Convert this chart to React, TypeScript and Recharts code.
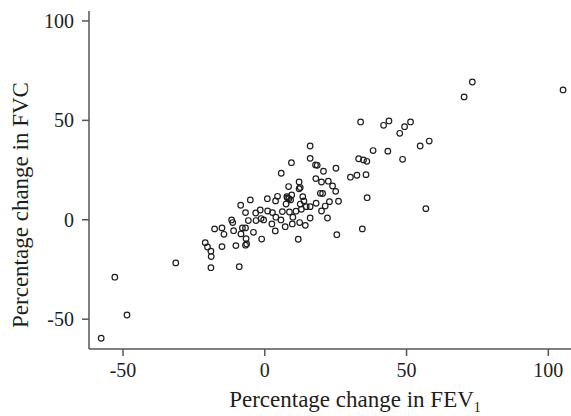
import * as React from 'react'
import { Scatter, ScatterChart, XAxis, YAxis } from 'recharts'

// percentage change in FEV1 (x) and FVC (y), one entry per subject
const fev1Change = [
  -57.7, -48.6, -52.9, -31.4, -19.0, -9.0, -21.0, -20.2, -19.0, -18.9,
  -15.1, -17.7, -15.1, -14.4, -11.7, -11.3, -11.0, -10.2, -8.5, -7.9,
  -8.4, -6.8, -6.6, -6.4, -6.8, -6.8, -5.8, -5.1, -4.0, -3.2,
  -3.1, -1.6, -1.3, -1.1, -0.4, 0.9, 1.0, 2.5, 2.7, 3.7,
  3.8, 4.5, 3.9, 5.8, 5.7, 6.2, 7.2, 7.5, 7.8, 8.4,
  8.5, 8.7, 9.1, 9.4, 9.7, 9.9, 11.0, 11.8, 12.1, 12.1,
  12.3, 12.5, 12.9, 13.4, 13.8, 14.3, 14.6, 16.0, 16.0, 16.0,
  16.0, 17.9, 18.1, 18.0, 19.6, 20.0, 20.0, 20.7, 21.3, 22.1,
  22.4, 22.8, 23.9, 25.1, 25.0, 25.4, 26.0, 73.2, 70.3, 105.2,
  33.8, 41.9, 43.8, 49.3, 51.4, 47.6, 54.8, 58.0, 38.2, 43.4,
  48.6, 33.1, 34.8, 36.0, 30.2, 32.5, 35.7, 36.1, 56.8, 34.4,
  20.4, 18.5, 8.0, 9.5, 12.5,
]

const fvcChange = [
  -59.6, -47.9, -28.9, -21.7, -24.1, -23.6, -11.5, -13.7, -15.8, -18.5,
  -13.5, -4.6, -4.1, -7.3, -0.1, -1.4, -5.5, -13.0, 7.3, -4.1,
  -7.1, -4.1, -9.5, -12.2, -12.8, 3.6, -0.4, 10.0, -6.3, 3.4,
  -0.4, 4.9, 0.6, -9.7, -0.1, 10.6, 4.4, -2.1, 3.6, -5.6,
  9.5, 11.8, 1.3, 23.4, -0.1, 4.1, -3.5, 7.9, 11.6, 16.7,
  10.6, 3.9, 10.0, 28.7, -2.1, 1.3, 4.3, -9.8, 19.0, 15.6,
  -1.4, 7.9, 5.3, 11.6, 9.5, -2.8, 6.6, 37.1, 30.9, 6.6,
  0.9, 27.6, 8.3, 20.7, 13.3, 19.0, 4.4, 24.4, 6.9, 0.9,
  19.4, 9.1, 17.0, 25.9, 14.3, -7.5, 9.3, 69.3, 61.8, 65.3,
  49.2, 47.5, 49.7, 46.8, 49.2, 43.5, 37.1, 39.6, 34.8, 34.5,
  30.4, 30.7, 30.1, 29.4, 21.4, 22.4, 22.7, 11.1, 5.6, -4.6,
  13.2, 27.4, 11.0, 12.5, 16.2,
]

const xTicks = [-50, 0, 50, 100]
const yTicks = [-50, 0, 50, 100]

const points = fev1Change.map((x, i) => ({ x, y: fvcChange[i] }))

const font = '"Liberation Serif", "Times New Roman", serif'
const axisColor = '#555'
const ink = '#1e1e1e'

const OpenCircle = (props: any) => (
  <circle cx={props.cx} cy={props.cy} r={2.8} fill="none" stroke={ink} strokeWidth={1.2} />
)

const XTitle = ({ viewBox }: any) => {
  const cx = viewBox.x + viewBox.width / 2 + 25
  const y = viewBox.y + 58
  return (
    <text x={cx} y={y} textAnchor="middle" fontFamily={font} fontSize={23} fill={ink}>
      Percentage change in FEV
      <tspan fontSize={14} dy={5}>1</tspan>
    </text>
  )
}

const YTitle = ({ viewBox }: any) => {
  const cx = 20
  const cy = viewBox.y + viewBox.height / 2 + 25
  return (
    <text
      x={cx}
      y={cy}
      transform={`rotate(-90, ${cx}, ${cy})`}
      textAnchor="middle"
      dominantBaseline="central"
      fontFamily={font}
      fontSize={23}
      fill={ink}
    >
      Percentage change in FVC
    </text>
  )
}

export default function App() {
  const tick = { fontFamily: font, fontSize: 20, fill: ink }
  return (
    <div style={{ position: 'absolute', left: 0, top: 0, background: '#fff' }}>
      <ScatterChart width={571} height={416} margin={{ top: 11, right: 0, bottom: 0, left: 0 }}>
        <XAxis
          type="number"
          dataKey="x"
          domain={[-62, 108]}
          ticks={xTicks}
          allowDataOverflow
          height={67}
          tick={tick}
          tickSize={7}
          tickMargin={7}
          stroke={axisColor}
          strokeWidth={1.5}
          label={<XTitle />}
        />
        <YAxis
          type="number"
          dataKey="y"
          domain={[-65, 105]}
          ticks={yTicks}
          allowDataOverflow
          width={89}
          tick={tick}
          tickSize={7}
          tickMargin={8}
          stroke={axisColor}
          strokeWidth={1.5}
          label={<YTitle />}
        />
        <Scatter data={points} shape={OpenCircle} isAnimationActive={false} />
      </ScatterChart>
    </div>
  )
}
